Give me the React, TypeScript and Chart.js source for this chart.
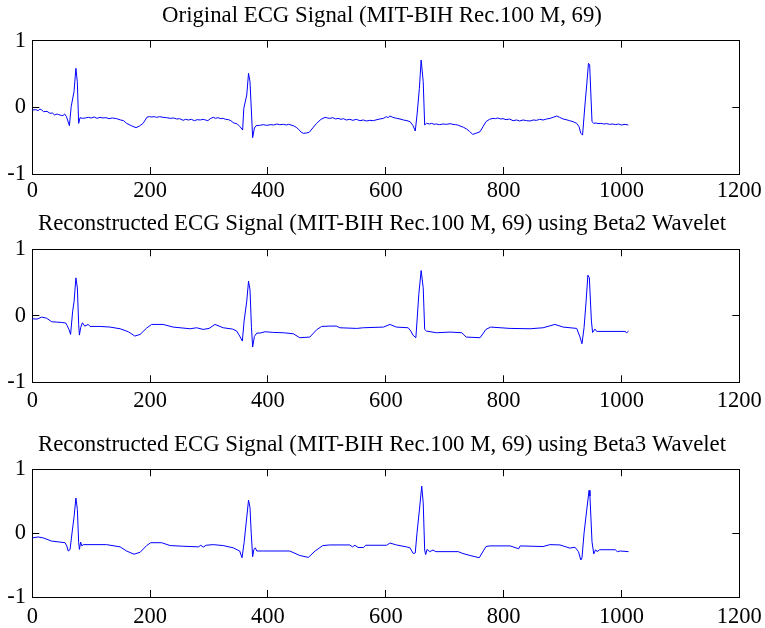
import React, { useEffect, useRef } from "react";
import { Chart, registerables } from "chart.js";

Chart.register(...registerables);

// ---- data (sample index, amplitude) ----
const ORIGINAL: [number, number][] = [
  [0,-0.04],[6,-0.035],[10,-0.05],[13,-0.025],[16,-0.04],[19,-0.065],[25,-0.06],[30,-0.09],[34,-0.085],[38,-0.115],[42,-0.1],[45,-0.11],[49,-0.12],[52,-0.125],[55,-0.1],[58,-0.14],[63,-0.275],[66,0.01],[70.8,0.235],[74,0.585],[76.4,0.385],[78.7,-0.24],[81,-0.155],[85,-0.165],[90,-0.16],[95,-0.15],[100,-0.16],[105,-0.145],[110,-0.165],[115,-0.15],[120,-0.16],[125,-0.155],[130,-0.17],[136,-0.16],[143,-0.17],[150,-0.19],[155,-0.2],[160,-0.24],[168,-0.275],[176,-0.305],[182,-0.28],[188,-0.24],[195,-0.145],[199,-0.14],[203,-0.145],[207,-0.14],[211,-0.15],[216,-0.14],[222,-0.15],[228,-0.155],[234,-0.165],[240,-0.16],[245,-0.175],[250,-0.17],[256,-0.195],[260,-0.18],[265,-0.19],[270,-0.18],[275,-0.2],[280,-0.185],[285,-0.19],[290,-0.18],[294,-0.19],[298,-0.2],[302,-0.17],[307,-0.15],[311,-0.165],[315,-0.155],[320,-0.17],[324,-0.165],[328,-0.18],[333,-0.185],[337,-0.2],[341,-0.23],[348,-0.25],[352.5,-0.29],[357,-0.34],[359,-0.015],[364,0.185],[367,0.51],[369.5,0.385],[374,-0.455],[377,-0.31],[380,-0.275],[386,-0.27],[392,-0.26],[398,-0.27],[405,-0.26],[410,-0.265],[415,-0.25],[420,-0.26],[426,-0.255],[431,-0.265],[435,-0.255],[443,-0.275],[448,-0.3],[452,-0.33],[456,-0.37],[460,-0.39],[465,-0.385],[470,-0.375],[476,-0.31],[482.6,-0.24],[490,-0.18],[497,-0.15],[501,-0.16],[505,-0.165],[510,-0.155],[515,-0.175],[519,-0.165],[524,-0.18],[528,-0.17],[533,-0.19],[539,-0.18],[544,-0.195],[550,-0.18],[556,-0.2],[562,-0.19],[567,-0.205],[573,-0.195],[579,-0.2],[585,-0.185],[590,-0.175],[596,-0.165],[601,-0.14],[604,-0.155],[607,-0.13],[612,-0.15],[618,-0.165],[624,-0.175],[630,-0.19],[636,-0.2],[641,-0.215],[646,-0.27],[650,-0.355],[653,-0.115],[657,0.285],[660,0.71],[663.5,0.385],[666,-0.265],[669,-0.24],[674,-0.25],[678,-0.24],[682,-0.255],[686,-0.25],[691,-0.26],[697,-0.25],[703,-0.255],[709,-0.245],[714,-0.255],[718,-0.26],[722,-0.265],[726,-0.28],[732,-0.3],[737,-0.325],[742,-0.36],[747.5,-0.405],[753,-0.39],[760,-0.365],[765,-0.29],[770,-0.215],[776,-0.18],[782,-0.165],[786,-0.17],[790,-0.16],[795,-0.175],[799,-0.17],[804,-0.185],[810,-0.175],[816,-0.2],[822,-0.19],[827,-0.205],[833,-0.19],[839,-0.2],[845,-0.205],[850,-0.19],[856,-0.195],[861,-0.18],[867,-0.19],[873,-0.175],[879,-0.165],[884,-0.15],[890,-0.13],[895,-0.15],[901,-0.175],[906,-0.185],[912,-0.2],[918,-0.215],[924,-0.24],[928,-0.29],[931,-0.39],[934,-0.415],[938,0.035],[941,0.335],[944,0.66],[946,0.64],[950,-0.215],[953,-0.24],[957,-0.235],[960,-0.245],[965,-0.24],[970,-0.25],[975,-0.245],[980,-0.255],[985,-0.25],[990,-0.26],[995,-0.25],[1000,-0.265],[1006,-0.255],[1011.5,-0.265]
];

const BETA2: [number, number][] = [
  [0,-0.045],[8,-0.05],[16,-0.02],[24,-0.035],[33,-0.09],[41.5,-0.095],[50,-0.1],[57,-0.11],[59,-0.145],[62,-0.2],[65,-0.28],[68.5,0.07],[71,0.22],[74,0.57],[76.5,0.42],[78.7,-0.13],[80,-0.29],[82,-0.18],[85,-0.105],[89,-0.155],[95,-0.13],[98,-0.16],[115,-0.16],[132,-0.17],[149,-0.195],[163,-0.24],[174,-0.305],[183,-0.28],[194,-0.185],[202.6,-0.13],[222,-0.13],[239,-0.17],[268,-0.195],[279,-0.18],[290,-0.205],[300,-0.19],[310,-0.13],[324,-0.18],[340,-0.2],[347,-0.23],[352,-0.305],[356.5,-0.38],[359.5,-0.08],[364,0.22],[367,0.52],[369.5,0.39],[372,-0.18],[374,-0.47],[377,-0.31],[381,-0.26],[386.5,-0.26],[395,-0.24],[409,-0.25],[426,-0.255],[443,-0.27],[454,-0.33],[471,-0.32],[482.6,-0.21],[491,-0.16],[505,-0.155],[516,-0.155],[522,-0.18],[550.5,-0.19],[562,-0.18],[596,-0.17],[607,-0.13],[618,-0.17],[638,-0.18],[642.5,-0.23],[646,-0.29],[651,-0.33],[653,-0.08],[656,0.32],[660,0.68],[663.5,0.42],[666,-0.205],[669,-0.23],[686,-0.255],[709,-0.245],[729,-0.255],[736.5,-0.32],[760,-0.33],[770,-0.205],[778,-0.17],[811,-0.19],[845,-0.195],[867,-0.18],[887,-0.13],[901,-0.17],[924,-0.19],[929,-0.305],[933,-0.42],[936.5,-0.18],[940,0.22],[943,0.61],[945.5,0.57],[949,-0.08],[951,-0.25],[955,-0.2],[958,-0.235],[1006,-0.235],[1009,-0.255],[1012,-0.23]
];

const BETA3: [number, number][] = [
  [0,-0.075],[10,-0.06],[18.5,-0.075],[33,-0.125],[47,-0.14],[55.6,-0.15],[58.5,-0.2],[61,-0.28],[64,-0.26],[67.4,0],[71,0.265],[74,0.55],[76.5,0.37],[78.7,-0.15],[80,-0.255],[82,-0.14],[84,-0.2],[86.6,-0.18],[126,-0.18],[149,-0.215],[160,-0.28],[172.6,-0.33],[183,-0.3],[194,-0.195],[201,-0.15],[219.6,-0.15],[234,-0.195],[256,-0.205],[282,-0.215],[286,-0.19],[290,-0.22],[295,-0.19],[307,-0.18],[324,-0.195],[341,-0.23],[352,-0.28],[356,-0.385],[359.5,-0.15],[363,0.16],[367,0.515],[369.5,0.4],[371.6,0],[374,-0.37],[376,-0.26],[378.5,-0.23],[381,-0.28],[392,-0.28],[437,-0.28],[454,-0.35],[468.5,-0.38],[480,-0.28],[493,-0.195],[505,-0.185],[539,-0.185],[543.5,-0.215],[547.5,-0.19],[553,-0.225],[562,-0.225],[566,-0.19],[601.5,-0.19],[607,-0.155],[618,-0.185],[635,-0.215],[641,-0.23],[646.6,-0.32],[650,-0.31],[653,0.005],[657,0.36],[661,0.735],[663.5,0.475],[666,-0.265],[667.7,-0.335],[670,-0.255],[674.5,-0.29],[680,-0.265],[685,-0.29],[723,-0.29],[731,-0.32],[743,-0.35],[758.6,-0.385],[770,-0.21],[777,-0.2],[811,-0.2],[825.6,-0.245],[828,-0.2],[867,-0.21],[878.6,-0.18],[895.6,-0.185],[912.6,-0.235],[921,-0.22],[927,-0.29],[931,-0.42],[933,-0.385],[936.5,0],[941,0.36],[945,0.67],[946.5,0.58],[950,-0.135],[953,-0.325],[956,-0.26],[958.5,-0.29],[963,-0.26],[989.5,-0.26],[993,-0.29],[998,-0.28],[1012,-0.29]
];

const TITLES = [
  "Original ECG Signal (MIT-BIH Rec.100 M, 69)",
  "Reconstructed ECG Signal (MIT-BIH Rec.100 M, 69) using Beta2 Wavelet",
  "Reconstructed ECG Signal (MIT-BIH Rec.100 M, 69) using Beta3 Wavelet",
];

const X_MIN = 0, X_MAX = 1200, X_STEP = 200;
const Y_MIN = -1, Y_MAX = 1, Y_STEP = 1;

const FONT = "'Liberation Serif', 'Times New Roman', serif";
const TICK_SIZE = 22.5;
const TITLE_SIZE = 22.8;
const W = 765;
const PLOT_LEFT = 32.3;
const PLOT_RIGHT_GAP = 25.7;

type PanelProps = {
  top: number;
  height: number;
  title: string;
  data: [number, number][];
  titlePadTop: number;
  titlePadBottom: number;
  xAxisHeight: number;
  xLabelPad: number;
};

const TL = -7;

function Panel(p: PanelProps) {
  const ref = useRef<HTMLCanvasElement | null>(null);
  useEffect(() => {
    if (!ref.current) return;
    const tickFont = { family: FONT, size: TICK_SIZE, weight: "normal" as const, lineHeight: 1.2 };
    const grid = {
      display: true,
      drawOnChartArea: false,
      drawTicks: true,
      tickLength: TL,
      color: "#000",
      lineWidth: 1,
    };
    const border = { display: true, color: "#000", width: 1 };
    const chart = new Chart(ref.current, {
      type: "line",
      data: {
        datasets: [
          {
            data: p.data.map(([x, y]) => ({ x, y })),
            borderColor: "#0000ff",
            borderWidth: 1,
            pointRadius: 0,
            tension: 0,
            fill: false,
          },
        ],
      },
      options: {
        animation: false,
        responsive: false,
        devicePixelRatio: 1,
        events: [],
        layout: { padding: { left: 0, right: 1, top: 0, bottom: 0 } },
        plugins: {
          legend: { display: false },
          tooltip: { enabled: false },
          title: {
            display: true,
            text: p.title,
            color: "#000",
            font: { family: FONT, size: TITLE_SIZE, weight: "normal", lineHeight: 1.2 },
            padding: { top: p.titlePadTop, bottom: p.titlePadBottom },
          },
        },
        scales: {
          x: {
            type: "linear",
            position: "bottom",
            min: X_MIN,
            max: X_MAX,
            grid,
            border,
            ticks: {
              stepSize: X_STEP,
              color: "#000",
              font: tickFont,
              padding: p.xLabelPad,
              maxRotation: 0,
              autoSkip: false,
              callback: (v: any) => String(v),
            },
            afterFit: (s: any) => {
              s.height = p.xAxisHeight;
              s.paddingLeft = 0;
              s.paddingRight = PLOT_RIGHT_GAP;
            },
          },
          x2: {
            type: "linear",
            position: "top",
            min: X_MIN,
            max: X_MAX,
            grid,
            border,
            ticks: { stepSize: X_STEP, display: false },
            afterFit: (s: any) => {
              s.height = 0;
              s.paddingLeft = 0;
              s.paddingRight = PLOT_RIGHT_GAP;
            },
          },
          y: {
            type: "linear",
            position: "left",
            min: Y_MIN,
            max: Y_MAX,
            grid,
            border,
            ticks: {
              stepSize: Y_STEP,
              color: "#000",
              font: tickFont,
              padding: 13.3,
              callback: (v: any) => String(v),
            },
            afterFit: (s: any) => {
              s.width = PLOT_LEFT;
              s.paddingTop = 0;
              s.paddingBottom = 0;
            },
          },
          y2: {
            type: "linear",
            position: "right",
            min: Y_MIN,
            max: Y_MAX,
            grid,
            border,
            ticks: { stepSize: Y_STEP, display: false },
            afterFit: (s: any) => {
              s.width = 0;
              s.paddingTop = 0;
              s.paddingBottom = 0;
            },
          },
        },
      },
    } as any);
    return () => chart.destroy();
  }, []);
  return (
    <canvas
      ref={ref}
      width={W}
      height={p.height}
      style={{ position: "absolute", left: 0, top: p.top, width: W, height: p.height }}
    />
  );
}

export default function App() {
  return (
    <div style={{ position: "absolute", left: 0, top: 0, width: W, height: 628, background: "#fff", overflow: "hidden" }}>
      <Panel top={0} height={210} title={TITLES[0]} data={ORIGINAL}
        titlePadTop={2.0} titlePadBottom={11.3} xAxisHeight={36} xLabelPad={10.5} />
      <Panel top={210} height={210} title={TITLES[1]} data={BETA2}
        titlePadTop={0.4} titlePadBottom={11.5} xAxisHeight={37.7} xLabelPad={11.9} />
      <Panel top={420} height={208} title={TITLES[2]} data={BETA3}
        titlePadTop={11.0} titlePadBottom={10.9} xAxisHeight={31} xLabelPad={13.2} />
    </div>
  );
}
